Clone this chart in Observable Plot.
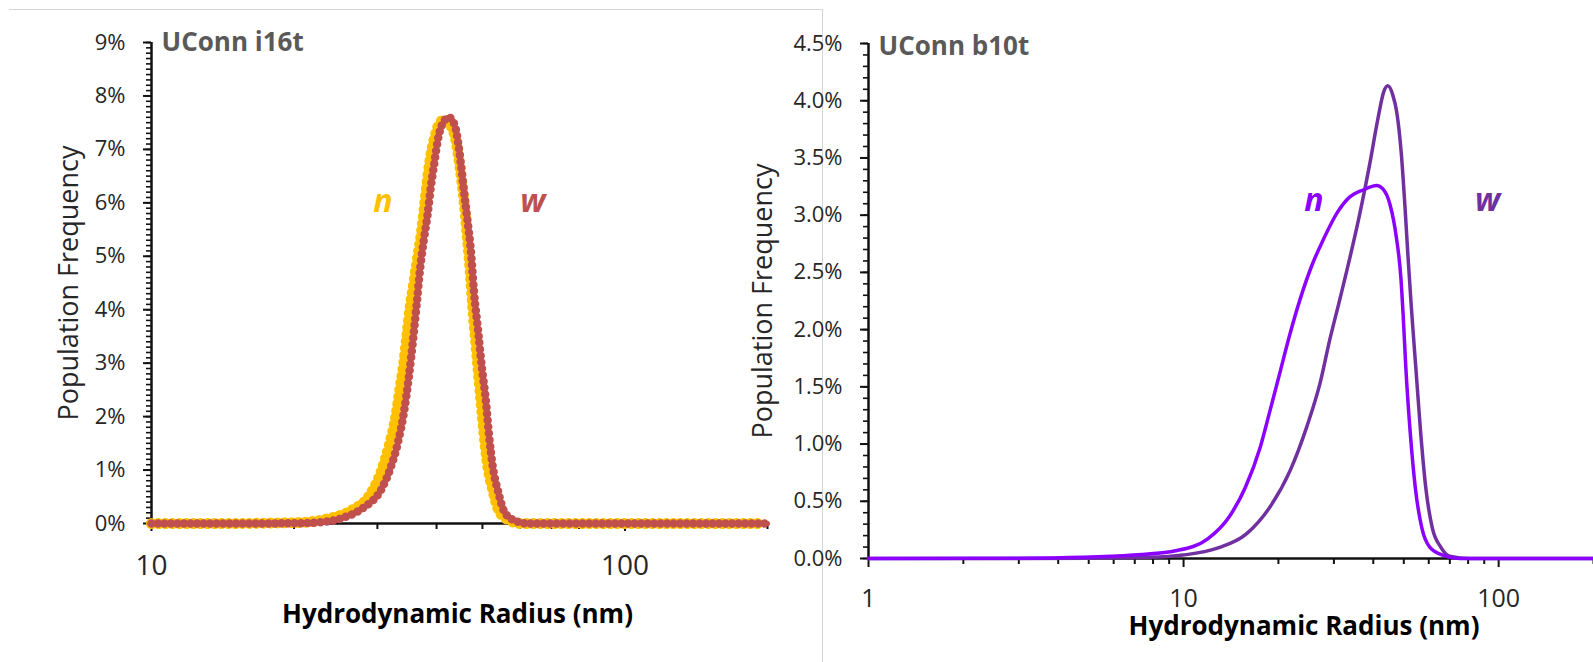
<!DOCTYPE html>
<html>
<head>
<meta charset="utf-8">
<script src="https://cdn.jsdelivr.net/npm/d3@7"></script>
<script src="https://cdn.jsdelivr.net/npm/@observablehq/plot@0.6"></script>
<style>
  html, body { margin: 0; padding: 0; background: #fff; overflow: hidden; }
  #wrap { position: relative; width: 1593px; height: 662px; overflow: hidden; }
  #wrap svg { position: absolute; top: 0; background: transparent !important; }
  #frame { position: absolute; left: 9px; top: 9px; width: 813px; height: 700px;
           border-top: 1px solid #d4d4d4; border-right: 1px solid #d4d4d4; }
</style>
</head>
<body>
<div id="wrap"><div id="frame"></div></div>
<script>
// ---- UConn i16t: size distributions, number-weighted (n) and weight-weighted (w) ----
const i16tRadiusN = [10, 15, 18, 20.65, 23.56, 26.35, 29.04, 30.64, 31.85, 32.80, 33.44, 34.10, 34.60, 35.11,
  35.80, 36.51, 37.22, 37.77, 38.33, 39.08, 39.85, 40.63, 41.64, 42.87, 43.93, 44.79, 45.67, 46.35, 47.03,
  47.61, 48.19, 48.90, 49.62, 50.35, 51.33, 52.60, 54.15, 56.86, 60.28, 80, 130, 195];
const i16tFreqN = [0, 0, 0.01, 0.02, 0.09, 0.24, 0.56, 1.0, 1.5, 2.0, 2.5, 3.0, 3.5, 4.0,
  4.5, 5.0, 5.5, 6.0, 6.5, 7.0, 7.3, 7.5, 7.56, 7.45, 7.17, 6.68, 6.07, 5.43, 4.79,
  4.12, 3.56, 2.92, 2.30, 1.69, 1.05, 0.62, 0.24, 0.06, 0, 0, 0, 0];

const i16tRadiusW = [10, 15, 20, 22.44, 25.46, 28.07, 30.49, 32.01, 33.12, 34.10, 34.94, 35.80, 36.33, 36.95,
  37.59, 38.33, 38.89, 39.56, 40.24, 41.03, 42.46, 43.71, 44.35, 45.01, 45.67, 46.57, 47.26, 47.96, 49.02,
  49.86, 50.84, 51.58, 52.60, 53.89, 55.49, 58.27, 62.37, 80, 130, 200];
const i16tFreqW = [0, 0, 0.005, 0.02, 0.11, 0.30, 0.62, 1.05, 1.50, 2.06, 2.73, 3.56, 4.12, 4.79,
  5.30, 5.81, 6.29, 6.74, 7.17, 7.45, 7.60, 7.45, 7.17, 6.74, 6.24, 5.62, 5.11, 4.36, 3.56,
  2.92, 2.30, 1.69, 1.05, 0.62, 0.24, 0.06, 0, 0, 0, 0];

// ---- UConn b10t ----
const b10tRadiusN = [1, 3, 4.80, 6.92, 9.53, 11.9, 14.0, 15.7, 17.5, 18.8, 20.2, 21.8, 23.4, 25.7, 27.7,
  30.7, 33.7, 37.1, 41.0, 42.9, 45.13, 47.33, 48.92, 49.82, 50.74, 52.44, 54.38, 57.01, 60.43, 66.45,
  75.22, 100, 200];
const b10tFreqN = [0, 0.002, 0.01, 0.03, 0.07, 0.17, 0.37, 0.62, 0.97, 1.29, 1.62, 1.97, 2.26, 2.58, 2.78,
  3.02, 3.16, 3.22, 3.26, 3.23, 3.10, 2.81, 2.46, 2.10, 1.67, 1.09, 0.62, 0.27, 0.10, 0.03,
  0, 0, 0];

const b10tRadiusW = [1, 3, 5, 7.83, 9.96, 12.8, 15.9, 18.8, 21.8, 24.6, 27.1, 29.1, 31.3, 33.0, 36.3,
  39.0, 41.3, 43.2, 44.5, 46.13, 47.49, 49.09, 50.36, 51.47, 52.81, 54.58, 56.59, 58.70, 61.54, 65.50,
  69.95, 80.93, 100, 200];
const b10tFreqW = [0, 0, 0.003, 0.01, 0.03, 0.09, 0.22, 0.45, 0.77, 1.15, 1.53, 1.91, 2.26, 2.52, 3.02,
  3.45, 3.83, 4.08, 4.13, 4.05, 3.90, 3.54, 3.10, 2.67, 2.20, 1.67, 1.09, 0.62, 0.27, 0.10,
  0.02, 0, 0, 0];

// ---- axis ticks ----
const i16tXMajor = [10, 100];
const i16tXMinor = [20, 30, 40, 50, 60, 70, 80, 90, 200];
const i16tYMajor = [0, 1, 2, 3, 4, 5, 6, 7, 8, 9];
const i16tYMinor = d3.range(0, 91).map(i => i / 10);

const b10tXMajor = [1, 10, 100];
const b10tXMinor = [2, 3, 4, 5, 6, 7, 8, 9, 20, 30, 40, 50, 60, 70, 80, 90, 200];
const b10tYMajor = [0, 0.5, 1, 1.5, 2, 2.5, 3, 3.5, 4, 4.5];
const b10tYMinor = d3.range(0, 46).map(i => i / 10);

const table = (rs, fs) => rs.map((r, i) => ({r, f: fs[i]}));
const ink = "#262626";
const font = "'Open Sans', 'DejaVu Sans', sans-serif";

function axes({xMajor, xMinor, yMajor, yMinor, yFormat, xFontSize, xPad, xMajorSize}) {
  return [
    Plot.axisY({ticks: yMinor, tickSize: 5, fill: "none", stroke: "#111", strokeWidth: 1.6, label: null}),
    Plot.axisY({ticks: yMajor, tickSize: 8, tickPadding: 18, tickFormat: yFormat, fontSize: 22,
                fill: ink, stroke: "#111", strokeWidth: 2, label: null}),
    Plot.axisX({ticks: xMinor, tickSize: 6, fill: "none", stroke: "#111", strokeWidth: 2, label: null}),
    Plot.axisX({ticks: xMajor, tickSize: xMajorSize, tickPadding: xPad, tickFormat: d => String(d),
                fontSize: xFontSize, fill: ink, stroke: "#111", strokeWidth: 2, label: null}),
    Plot.ruleX([xMajor[0]], {stroke: "#111", strokeWidth: 2.5}),
    Plot.ruleY([0], {stroke: "#111", strokeWidth: 2.5})
  ];
}

function titles(name, titleDx, titleDy, xTitleDx, xTitleDy, yTitleDx) {
  return [
    Plot.text([name], {text: d => d, frameAnchor: "top-left", dx: titleDx, dy: titleDy, lineAnchor: "bottom",
                       textAnchor: "start", fontSize: 26, fontWeight: 700, fill: "#595959"}),
    Plot.text(["Hydrodynamic Radius (nm)"], {text: d => d, frameAnchor: "bottom", dx: xTitleDx, dy: xTitleDy,
                       lineAnchor: "bottom", textAnchor: "middle", fontSize: 26, fontWeight: 700, fill: "#000"}),
    Plot.text(["Population Frequency"], {text: d => d, frameAnchor: "left", dx: yTitleDx, rotate: -90,
                       textAnchor: "middle", lineAnchor: "middle", fontSize: 27, fill: ink})
  ];
}

const seriesLabel = (x, y, t, color) =>
  Plot.text([t], {x: () => x, y: () => y, text: d => d, fill: color, fontSize: 32, fontWeight: 700,
                  fontStyle: "italic", lineAnchor: "bottom"});

// ---- left panel: UConn i16t, beaded marker series ----
const gold = "#FFC000", brick = "#C0504D";
const i16tN = table(i16tRadiusN, i16tFreqN);
const i16tW = table(i16tRadiusW, i16tFreqW);

const left = Plot.plot({
  width: 810, height: 662,
  marginLeft: 151, marginRight: 43, marginTop: 42, marginBottom: 139,
  x: {type: "log", domain: [10, 200]},
  y: {domain: [0, 9]},
  style: {fontFamily: font, background: "transparent", overflow: "visible", color: ink},
  marks: [
    ...axes({xMajor: i16tXMajor, xMinor: i16tXMinor, yMajor: i16tYMajor, yMinor: i16tYMinor,
             yFormat: d => d + "%", xFontSize: 28, xPad: 24, xMajorSize: 8}),
    Plot.line(i16tN, {x: "r", y: "f", curve: "monotone-x", stroke: gold, strokeWidth: 7}),
    Plot.line(i16tN, {x: "r", y: "f", curve: "monotone-x", stroke: gold, strokeWidth: 11,
                      strokeLinecap: "round", strokeDasharray: "0 7"}),
    Plot.line(i16tW, {x: "r", y: "f", curve: "monotone-x", stroke: brick, strokeWidth: 5}),
    Plot.line(i16tW, {x: "r", y: "f", curve: "monotone-x", stroke: brick, strokeWidth: 8.5,
                      strokeLinecap: "round", strokeDasharray: "0 6.5"}),
    seriesLabel(30.8, 5.82, "n", gold),
    seriesLabel(63.9, 5.82, "w", brick),
    ...titles("UConn i16t", 10, 8, -2, 99, -82)
  ]
});
left.style.left = "0px";
document.getElementById("wrap").appendChild(left);

// ---- right panel: UConn b10t, smooth lines ----
const violet = "#8C00FF", plum = "#7030A0";
const b10tN = table(b10tRadiusN, b10tFreqN);
const b10tW = table(b10tRadiusW, b10tFreqW);

const right = Plot.plot({
  width: 853, height: 662,
  marginLeft: 128, marginRight: 0, marginTop: 43, marginBottom: 104,
  x: {type: "log", domain: [1, 200]},
  y: {domain: [0, 4.5]},
  style: {fontFamily: font, background: "transparent", overflow: "visible", color: ink},
  marks: [
    ...axes({xMajor: b10tXMajor, xMinor: b10tXMinor, yMajor: b10tYMajor, yMinor: b10tYMinor,
             yFormat: d => d.toFixed(1) + "%", xFontSize: 25, xPad: 22, xMajorSize: 9}),
    Plot.line(b10tW, {x: "r", y: "f", curve: "monotone-x", stroke: plum, strokeWidth: 3.5}),
    Plot.line(b10tN, {x: "r", y: "f", curve: "monotone-x", stroke: violet, strokeWidth: 3.5}),
    seriesLabel(25.9, 3.04, "n", violet),
    seriesLabel(92.3, 3.04, "w", plum),
    ...titles("UConn b10t", 10, 11, 73, 76, -105)
  ]
});
right.style.left = "740px";
document.getElementById("wrap").appendChild(right);
</script>
</body>
</html>
